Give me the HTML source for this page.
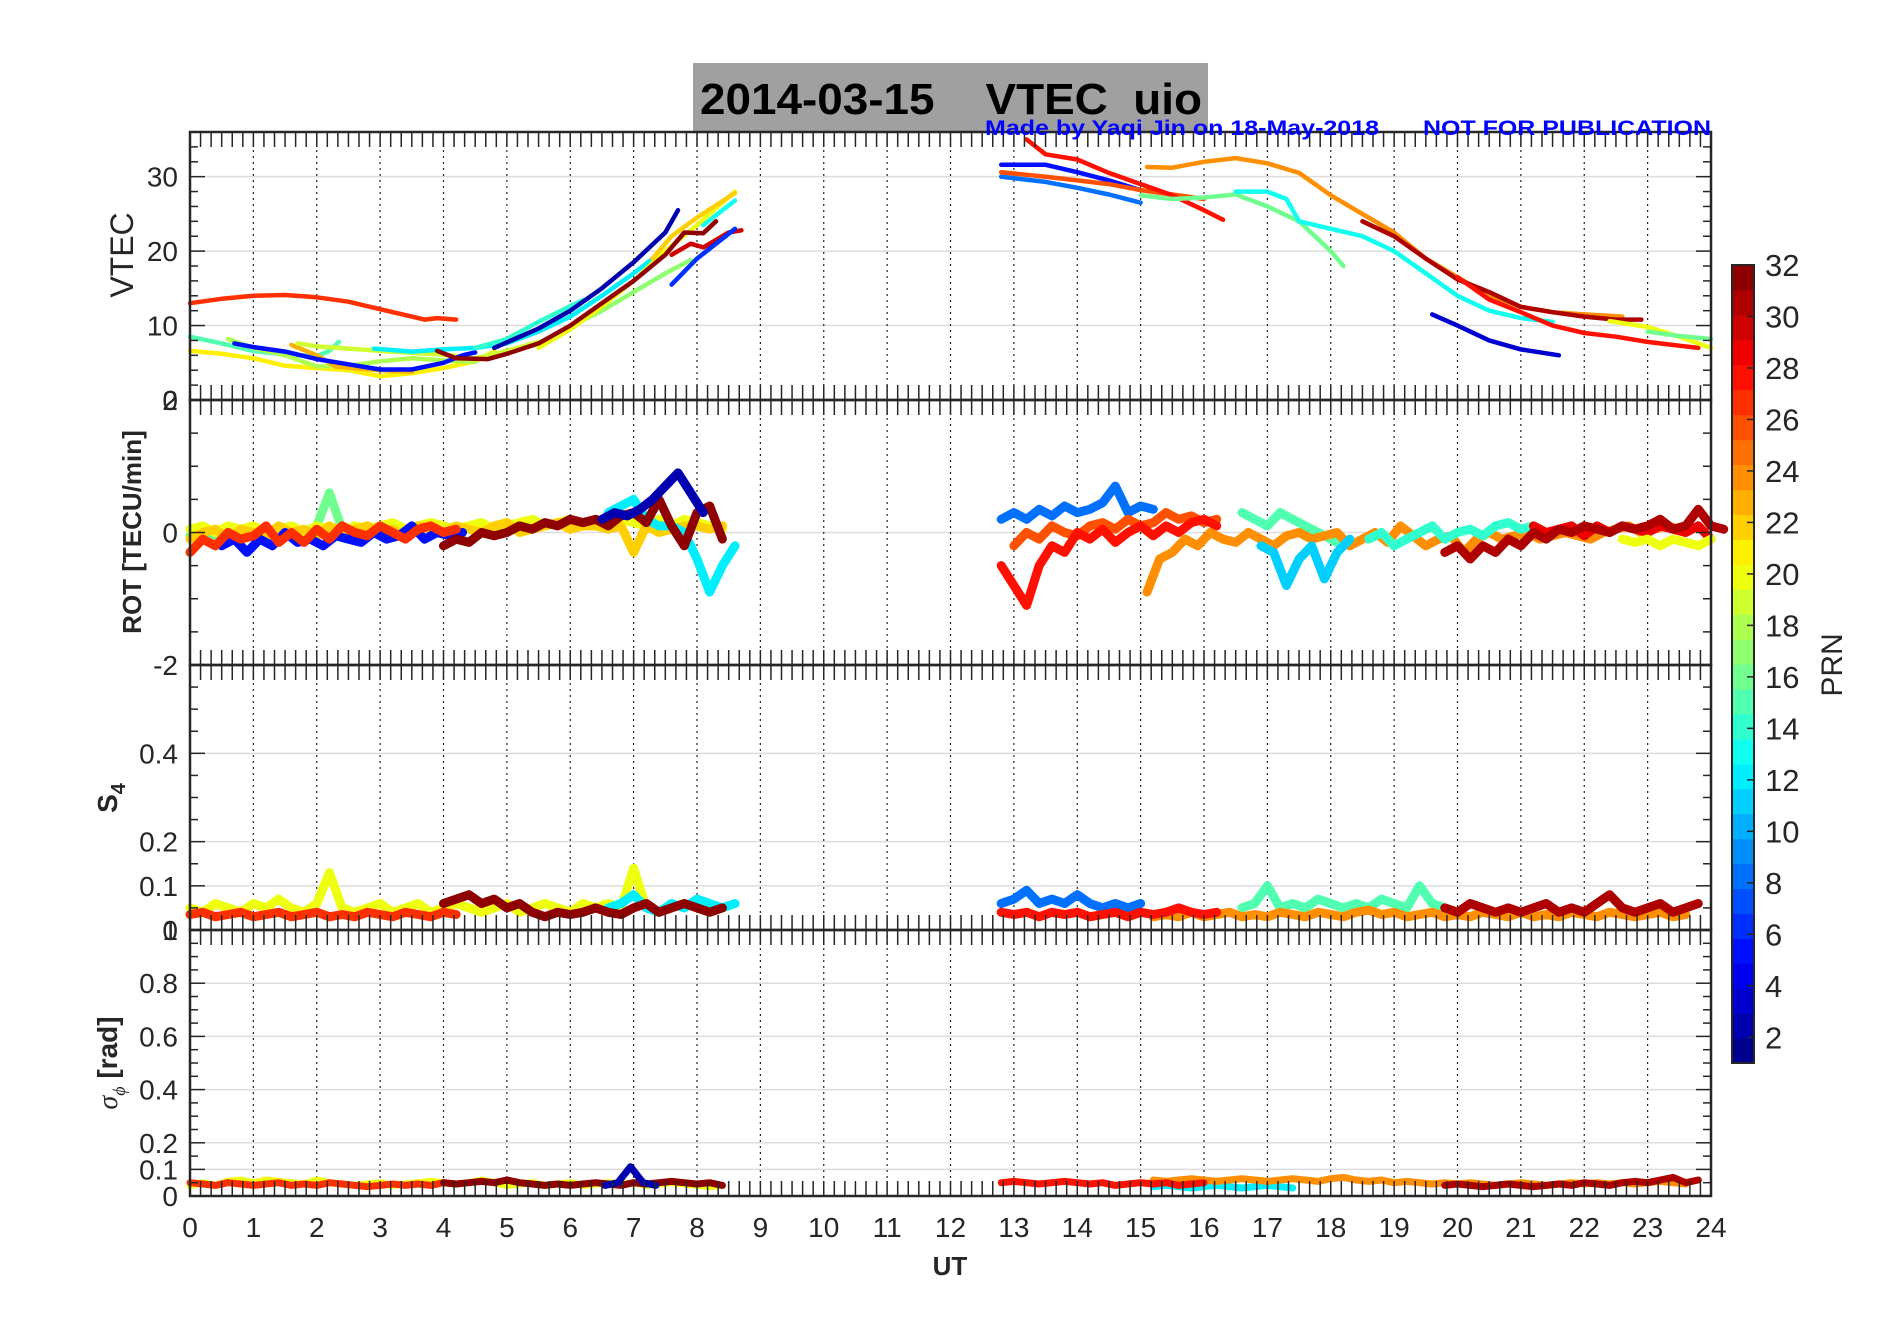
<!DOCTYPE html>
<html><head><meta charset="utf-8"><style>
html,body{margin:0;padding:0;background:#fff;}
svg{display:block;font-family:"Liberation Sans",sans-serif;}
</style></head><body>
<svg id="fig" width="1902" height="1330" viewBox="0 0 1902 1330" xmlns="http://www.w3.org/2000/svg">
<rect x="0" y="0" width="1902" height="1330" fill="#fff"/>
<rect x="693" y="63" width="515" height="68" fill="#a0a0a0"/>
<text x="700" y="114" font-size="44" font-weight="bold" fill="#000" textLength="502" lengthAdjust="spacingAndGlyphs" xml:space="preserve">2014-03-15    VTEC  uio</text>
<g id="plots"></g>
<text x="985" y="135" font-size="21" font-weight="bold" fill="#0000ff" textLength="394" lengthAdjust="spacingAndGlyphs">Made by Yaqi Jin on 18-May-2018</text>
<text x="1423" y="135" font-size="21" font-weight="bold" fill="#0000ff" textLength="288" lengthAdjust="spacingAndGlyphs">NOT FOR PUBLICATION</text>
<text transform="translate(133,255) rotate(-90)" text-anchor="middle" font-size="32" fill="#262626">VTEC</text>
<text transform="translate(141,532) rotate(-90)" text-anchor="middle" font-size="26" font-weight="bold" fill="#262626">ROT [TECU/min]</text>
<text transform="translate(117,798) rotate(-90)" text-anchor="middle" font-size="28" font-weight="bold" fill="#262626">S<tspan font-size="20" dy="8">4</tspan></text>
<text transform="translate(117,1063) rotate(-90)" text-anchor="middle" font-size="28" font-weight="bold" fill="#262626"><tspan font-family="Liberation Serif" font-style="italic" font-weight="normal">σ</tspan><tspan font-size="18" dy="8" font-family="Liberation Serif" font-style="italic" font-weight="normal">ϕ</tspan><tspan dy="-8"> [rad]</tspan></text>
<text x="950" y="1275" text-anchor="middle" font-size="26" font-weight="bold" fill="#262626">UT</text>
<g id="cbar"></g>
<text transform="translate(1842,665) rotate(-90)" text-anchor="middle" font-size="30" fill="#262626">PRN</text>
</svg>
<script>
// ---------- data ----------
const xTicks = [0,1,2,3,4,5,6,7,8,9,10,11,12,13,14,15,16,17,18,19,20,21,22,23,24];
const vtecTicks = [0,10,20,30];
const rotTicks = [-2,0,2];
const s4Ticks = [0,0.1,0.2,0.4];
const sigTicks = [0,0.1,0.2,0.4,0.6,0.8];
const cbarTicks = [2,4,6,8,10,12,14,16,18,20,22,24,26,28,30,32];

// VTEC series: [t, value] pairs
const vtec_p27a = [[0,13],[0.5,13.6],[1,14],[1.5,14.1],[2,13.8],[2.5,13.2],[3,12.2],[3.5,11.2],[3.7,10.8],[3.9,11],[4.2,10.8]];
const vtec_p15a = [[0,8.5],[0.5,7.6],[1,6.6],[1.5,6.1],[2,5.9],[2.2,6.6],[2.35,7.8]];
const vtec_p21a = [[0,6.6],[0.5,6.2],[1,5.6],[1.5,4.6],[2,4.3],[2.5,4],[3,3.2],[3.5,3.6],[4,4.3],[4.5,5.2],[4.8,6.5]];
const vtec_p5a = [[0.7,7.6],[1,7.1],[1.5,6.5],[2,5.5],[2.5,4.8],[3,4.1],[3.5,4.1],[4,5],[4.3,6],[4.5,6.4]];
const vtec_p18a = [[0.6,8.2],[1,7],[1.5,6],[2,4.5],[2.5,4.6],[3,5.2],[3.5,5.6],[4,5.3],[4.5,5.1]];
const vtec_p23a = [[1.6,7.4],[2,6],[2.3,4.5],[3,4],[3.5,3.8]];
const vtec_p19a = [[1.7,7.6],[2,7.2],[3,6.6],[4,6.1],[4.5,5.6],[5,6.6],[5.5,7.8]];
const vtec_p12a = [[2.9,6.9],[3.5,6.5],[4,6.8],[4.5,7],[5,7.6],[5.5,9.2],[6,11.2],[6.5,14],[7,17],[7.3,19]];
const vtec_p14a = [[4.5,7],[5,8.2],[5.5,10.5],[6,12.6],[6.2,13.4]];
const vtec_p2a = [[4.8,7],[5.5,9.6],[6,12],[6.5,15],[7,18.5],[7.5,22.5],[7.7,25.5]];
const vtec_p32a = [[3.9,6.6],[4.2,5.6],[4.7,5.5],[5,6.2],[5.5,7.6],[6,10],[6.5,13],[7,16],[7.5,19.5],[7.8,22.5],[8.1,22.4],[8.3,24]];
const vtec_p30a = [[7.6,19.5],[7.9,21],[8.1,20.5],[8.3,21.5],[8.5,22.5],[8.7,22.8]];
const vtec_p20a = [[5.5,7],[6,9.5],[6.5,12.5],[7,16],[7.5,20],[8,23.5],[8.6,28]];
const vtec_p22a = [[7.3,19],[7.6,22],[8,24.5],[8.6,27.8]];
const vtec_p17a = [[5.8,9],[6.5,12],[7,14.5],[7.5,17],[7.9,18.8]];
const vtec_p6a = [[7.6,15.5],[8,19],[8.6,23]];
const vtec_p13a = [[8.1,23.5],[8.6,26.8]];
const vtec_p5b = [[12.8,31.6],[13.5,31.6],[14,30.6],[14.5,29.5],[15,28.2]];
const vtec_p8b = [[12.8,30],[13.5,29.3],[14,28.5],[14.5,27.6],[15,26.5]];
const vtec_p26b = [[12.8,30.6],[13.5,30],[14,29.5],[14.5,29],[15,28.2],[15.5,27.6],[16,27]];
const vtec_p28b = [[13.2,35],[13.5,33],[14,32.3],[14.5,30.5],[15,29],[15.5,27.5],[16,25.5],[16.3,24.2]];
const vtec_p24b = [[15.1,31.3],[15.5,31.2],[16,32],[16.5,32.5],[17,31.8],[17.5,30.5],[18,27.5],[18.5,25],[19,22.5],[19.5,19],[20,16.5],[20.5,14],[21,12.5],[21.5,11.8],[22,11.5],[22.6,11.2]];
const vtec_p16b = [[15,27.5],[15.5,27],[16,27.2],[16.5,27.6],[17,26],[17.5,24],[18,20],[18.2,18]];
const vtec_p13b = [[16.5,28],[17,28],[17.3,27],[17.5,24],[18,23],[18.5,22],[19,20],[19.5,17],[20,14],[20.5,12],[21,11],[21.5,10.5]];
const vtec_p31b = [[18.5,24],[19,22],[19.5,19],[20,16.2],[20.5,14.5],[21,12.5],[21.5,11.8],[22,11.2],[22.5,10.8],[22.9,10.8]];
const vtec_p28c = [[20,16.5],[20.5,13.5],[21,11.8],[21.5,10],[22,9],[22.5,8.5],[23,7.8],[23.5,7.3],[23.8,7]];
const vtec_p3b = [[19.6,11.5],[20,10],[20.5,8],[21,6.8],[21.6,6]];
const vtec_p20b = [[22.4,10.6],[23,9.8],[23.5,8.5],[24,7]];
const vtec_p16c = [[23,9.2],[23.5,8.6],[24,8.2]];

// ROT series: start time, values every 0.2 h
const rot_p27a = [-0.3,-0.1,-0.2,0,-0.1,-0.05,0.1,-0.15,0,-0.15,0.05,-0.1,0.1,0,-0.05,0.1,0,-0.1,0.05,0.1,0,0.05];
const rot_p22a = [-0.1,0,0.05,-0.1,0.05,0,-0.05,0.1,0,0.05,-0.05,0.1,0,0.05,0.1,0,0.05,-0.05,0.1,0.05,0,0.1,0.05,0,0.1,0.15,0,0.05,0.1,0.15,0.05,0.1,0.1,0.05,0.1,-0.3,0.1,0,0.05,0.1,0.1,0.05,0.1];
const rot_p20a = [0.05,0.1,0,0.1,0.05,0.1,0,0.05,0.1,0,0.1,0.05,0,0.1,0.05,0.1,0.15,0.05,0.1,0.15,0.1,0.05,0.1,0.15,0.05,0.1,0.15,0.2,0.1,0.15,0.2,0.1,0.15,0.1,0.2,0.15,0.1,0.2,0.1,0.2,0.15,0.1,0.05];
const rot_p16a = [-0.05,0,-0.1,0,-0.05,0.05,-0.1,0,0.05,-0.05,0.1,0.6,0.05,0,-0.05];
const rot_p5a = [-0.2,-0.1,-0.3,-0.1,-0.2,0,-0.15,-0.1,-0.2,-0.05,-0.1,-0.15,0,-0.1,-0.05,0.1,-0.1,0,-0.05,0];
const rot_p32a = [-0.2,-0.1,-0.15,0,-0.05,0,0.1,0.05,0.15,0.1,0.2,0.15,0.2,0.1,0.25,0.3,0.15,0.5,0.1,-0.2,0.3,0.4,-0.1];
const rot_p2a = [0.2,0.3,0.25,0.35,0.5,0.7,0.9,0.6,0.3];
const rot_p12a = [0.3,0.4,0.5,0.2,0.1,0.1,0,-0.4,-0.9,-0.5,-0.2];
const rot_p8b = [0.2,0.3,0.2,0.35,0.25,0.4,0.3,0.35,0.45,0.7,0.3,0.4,0.35];
const rot_p28b = [-0.5,-0.8,-1.1,-0.5,-0.2,-0.3,0,-0.1,0.05,-0.15,0,0.1,-0.05,0.1,0,0.15,0.2,0.1];
const rot_p26b = [-0.2,0,-0.1,0.1,0,-0.05,0.1,0.15,0.05,0.2,0.1,0.15,0.3,0.2,0.25,0.15,0.2];
const rot_p24b = [-0.9,-0.4,-0.3,-0.1,-0.2,0,-0.1,-0.15,0,-0.1,-0.2,-0.05,0,-0.1,-0.05,0,-0.2,-0.1,0,-0.15,0.1,-0.05,-0.2,-0.1,-0.05,-0.3,-0.1,0,-0.1,-0.05,0,-0.1,-0.05,0,-0.05,-0.1,0,0.05,0.1,0,0.05,0.1,0.05];
const rot_p15b = [0.3,0.2,0.1,0.3,0.2,0.1,0,-0.1,-0.2];
const rot_p11b = [-0.2,-0.3,-0.8,-0.4,-0.2,-0.7,-0.3,-0.1];
const rot_p14b = [-0.1,0,-0.2,-0.1,0,0.1,-0.1,0,0.05,-0.05,0.1,0.15,0.05,0.1];
const rot_p31b = [-0.3,-0.2,-0.4,-0.2,-0.3,-0.1,-0.2,0,-0.1,0.05,0,0.1,0.05,0,0.1,0.05,0.1,0.2,0.05,0.1,0.35,0.1,0.05];
const rot_p29b = [0.1,0,0.05,0.1,-0.05,0.1,0,0.1,0.05,0,0.1,0.05,0,0.1,-0.1];
const rot_p20b = [-0.1,-0.15,-0.1,-0.2,-0.1,-0.15,-0.2,-0.1];

// S4 series: start time, values every 0.2 h
const s4_p27a = [0.035,0.04,0.03,0.035,0.04,0.03,0.035,0.04,0.03,0.035,0.04,0.03,0.035,0.03,0.04,0.035,0.03,0.04,0.035,0.03,0.04,0.035];
const s4_p20a = [0.05,0.04,0.06,0.05,0.04,0.06,0.05,0.07,0.05,0.04,0.06,0.13,0.05,0.04,0.05,0.06,0.04,0.05,0.06,0.04,0.05,0.06,0.05,0.04,0.05,0.06,0.04,0.05,0.06,0.05,0.04,0.06,0.05,0.06,0.05,0.14,0.05,0.04,0.05,0.06,0.05,0.04,0.05];
const s4_p32a = [0.06,0.07,0.08,0.06,0.07,0.05,0.06,0.04,0.03,0.04,0.035,0.04,0.05,0.04,0.035,0.05,0.06,0.04,0.05,0.06,0.05,0.04,0.05];
const s4_p12a = [0.05,0.06,0.08,0.05,0.04,0.06,0.05,0.07,0.06,0.05,0.06];
const s4_p8b = [0.06,0.07,0.09,0.06,0.07,0.06,0.08,0.06,0.05,0.06,0.05,0.06];
const s4_p28b = [0.04,0.035,0.04,0.03,0.04,0.035,0.04,0.03,0.035,0.04,0.03,0.04,0.035,0.04,0.05,0.04,0.035,0.04];
const s4_p24b = [0.03,0.035,0.03,0.04,0.03,0.035,0.04,0.03,0.035,0.03,0.04,0.035,0.03,0.04,0.035,0.03,0.04,0.045,0.035,0.04,0.03,0.035,0.04,0.03,0.035,0.03,0.04,0.035,0.03,0.04,0.03,0.035,0.03,0.04,0.035,0.03,0.04,0.035,0.03,0.035,0.04,0.03,0.035];
const s4_p15b = [0.05,0.06,0.1,0.05,0.06,0.05,0.07,0.06,0.05,0.06,0.05,0.07,0.06,0.05,0.1,0.06,0.05];
const s4_p31b = [0.05,0.04,0.06,0.05,0.04,0.05,0.04,0.05,0.06,0.04,0.05,0.04,0.06,0.08,0.05,0.04,0.05,0.06,0.04,0.05,0.06];

// sigma-phi series: start time, values every 0.2 h
const sig_p27a = [0.05,0.045,0.04,0.05,0.045,0.04,0.045,0.05,0.04,0.045,0.04,0.05,0.045,0.04,0.035,0.04,0.045,0.04,0.045,0.04,0.05,0.045];
const sig_p20a = [0.04,0.05,0.04,0.055,0.06,0.05,0.06,0.055,0.05,0.045,0.06,0.05,0.045,0.04,0.045,0.05,0.04,0.045,0.05,0.055,0.05,0.045,0.05,0.06,0.05,0.04,0.045,0.05,0.04,0.045,0.05,0.04,0.045,0.05,0.045,0.05,0.04,0.045,0.05,0.045,0.04,0.035,0.04];
const sig_p32a = [0.05,0.045,0.05,0.055,0.05,0.06,0.05,0.045,0.04,0.045,0.04,0.045,0.05,0.045,0.04,0.05,0.045,0.05,0.055,0.05,0.045,0.05,0.04];
const sig_p2a = [0.04,0.05,0.11,0.05,0.04];
const sig_p28b = [0.05,0.055,0.05,0.045,0.05,0.055,0.05,0.045,0.05,0.04,0.045,0.05,0.045,0.05,0.04,0.045,0.05];
const sig_p24b = [0.06,0.055,0.06,0.065,0.06,0.055,0.06,0.065,0.06,0.055,0.06,0.065,0.06,0.055,0.065,0.07,0.06,0.055,0.06,0.05,0.055,0.05,0.045,0.05,0.045,0.05,0.045,0.04,0.045,0.05,0.045,0.04,0.045,0.05,0.045,0.05,0.045,0.05,0.045,0.05,0.055,0.05,0.045];
const sig_p12b = [0.035,0.04,0.035,0.03,0.035,0.04,0.035,0.03,0.035,0.04,0.035,0.03];
const sig_p31b = [0.04,0.045,0.04,0.035,0.04,0.045,0.04,0.035,0.04,0.045,0.04,0.05,0.045,0.04,0.05,0.055,0.05,0.06,0.07,0.05,0.06];

// ---------- layout ----------
const NS = 'http://www.w3.org/2000/svg';
const X0 = 190, X1 = 1711;
const panels = [
  {key:'vtec', top:132, bot:400, lo:0, hi:36, major:vtecTicks, minor:2},
  {key:'rot', top:400, bot:665, lo:-2, hi:2, major:rotTicks, minor:0.5},
  {key:'s4', top:665, bot:930, lo:0, hi:0.6, major:s4Ticks, minor:0.05},
  {key:'sig', top:930, bot:1196, lo:0, hi:1, major:sigTicks, minor:0.05}
];
function xs(t){ return X0 + (t/24)*(X1-X0); }
function ys(p,v){ return p.bot - (v-p.lo)/(p.hi-p.lo)*(p.bot-p.top); }
function jet(prn){
  const n=32, v=(prn-0.5)/n;
  const f=x=>Math.max(0,Math.min(1,x));
  const r=f(1.5-Math.abs(4*v-3)), g=f(1.5-Math.abs(4*v-2)), b=f(1.5-Math.abs(4*v-1));
  return 'rgb('+Math.round(r*255)+','+Math.round(g*255)+','+Math.round(b*255)+')';
}
function mk(tag, attrs, parent){
  const e=document.createElementNS(NS,tag);
  for(const k in attrs) e.setAttribute(k,attrs[k]);
  parent.appendChild(e); return e;
}
const root=document.getElementById('plots');

panels.forEach(p=>{
  const g=mk('g',{},root);
  
  
  p.g=g;
  p.major.forEach(v=>{
    const l=mk('line',{x1:X0,x2:X1,y1:ys(p,v),y2:ys(p,v),stroke:'#dcdcdc','stroke-width':1.5},g);
    
    
  });
  xTicks.forEach(t=>{
    if(t===0||t===24) return;
    const l=mk('line',{x1:xs(t),x2:xs(t),y1:p.top,y2:p.bot,stroke:'#222','stroke-width':1.2,'stroke-dasharray':'2 4'},g);
    
    
  });
});

function drawPairs(p, prn, pts, w){
  const d=pts.map((q,i)=>(i?'L':'M')+xs(q[0]).toFixed(1)+' '+ys(p,q[1]).toFixed(1)).join(' ');
  const e=mk('path',{d:d,fill:'none',stroke:jet(prn),'stroke-width':w,'stroke-linejoin':'round','stroke-linecap':'round'},p.g);
  
  
}
function drawSteps(p, prn, t0, vals, w){
  const pts=vals.map((v,i)=>[t0+i*0.2, v]);
  drawPairs(p, prn, pts, w);
}
const P=panels;
[[15,vtec_p15a],[21,vtec_p21a],[18,vtec_p18a],[23,vtec_p23a],[19,vtec_p19a],[5,vtec_p5a],[12,vtec_p12a],[14,vtec_p14a],[17,vtec_p17a],[20,vtec_p20a],[22,vtec_p22a],[2,vtec_p2a],[32,vtec_p32a],[30,vtec_p30a],[6,vtec_p6a],[13,vtec_p13a],[27,vtec_p27a],
 [8,vtec_p8b],[5,vtec_p5b],[26,vtec_p26b],[28,vtec_p28b],[16,vtec_p16b],[13,vtec_p13b],[24,vtec_p24b],[31,vtec_p31b],[28,vtec_p28c],[3,vtec_p3b],[20,vtec_p20b],[16,vtec_p16c]
].forEach(s=>drawPairs(P[0], s[0], s[1], 4.5));

[[16,0,rot_p16a],[20,0,rot_p20a],[22,0,rot_p22a],[5,0.5,rot_p5a],[27,0,rot_p27a],[12,6.6,rot_p12a],[32,4,rot_p32a],[2,6.5,rot_p2a],
 [8,12.8,rot_p8b],[26,13.0,rot_p26b],[28,12.8,rot_p28b],[15,16.6,rot_p15b],[24,15.1,rot_p24b],[11,16.9,rot_p11b],[14,18.6,rot_p14b],[29,21.2,rot_p29b],[31,19.8,rot_p31b],[20,22.6,rot_p20b]
].forEach(s=>drawSteps(P[1], s[0], s[1], s[2], 9));

[[20,0,s4_p20a],[27,0,s4_p27a],[12,6.6,s4_p12a],[32,4,s4_p32a],
 [8,12.8,s4_p8b],[15,16.6,s4_p15b],[24,15.2,s4_p24b],[28,12.8,s4_p28b],[31,19.8,s4_p31b]
].forEach(s=>drawSteps(P[2], s[0], s[1], s[2], 9));

[[20,0,sig_p20a],[27,0,sig_p27a],[32,4,sig_p32a],[2,6.55,sig_p2a],
 [12,15.2,sig_p12b],[24,15.2,sig_p24b],[28,12.8,sig_p28b],[31,19.8,sig_p31b]
].forEach(s=>drawSteps(P[3], s[0], s[1], s[2], 7));

panels.forEach((p,pi)=>{
  const g=p.g;
  for(let k=0;k<=144;k++){
    const x=xs(k/6);
    mk('line',{x1:x,x2:x,y1:p.top,y2:p.top+15,stroke:'#262626','stroke-width':1.5},g);
    mk('line',{x1:x,x2:x,y1:p.bot,y2:p.bot-15,stroke:'#262626','stroke-width':1.5},g);
  }
  const n=Math.round((p.hi-p.lo)/p.minor);
  for(let k=0;k<=n;k++){
    const v=p.lo+k*p.minor, y=ys(p,v);
    const isMaj=p.major.some(m=>Math.abs(m-v)<1e-9);
    const L=isMaj?15:8;
    mk('line',{x1:X0,x2:X0+L,y1:y,y2:y,stroke:'#262626','stroke-width':1.5},g);
    mk('line',{x1:X1,x2:X1-L,y1:y,y2:y,stroke:'#262626','stroke-width':1.5},g);
  }
  p.major.forEach(v=>{
    const t=mk('text',{x:178,y:ys(p,v)+10,'text-anchor':'end','font-size':28,fill:'#262626'},g);
    t.textContent=String(v);
    
    
  });
  if(p.key==='rot'){
    const t=mk('text',{x:178,y:p.top+10,'text-anchor':'end','font-size':28,fill:'#262626'},g);
    t.textContent='2';
    
    
  }
  if(p.key==='sig'){
    const t=mk('text',{x:178,y:p.top+10,'text-anchor':'end','font-size':28,fill:'#262626'},g);
    t.textContent='1';
    
    
  }
  const b=mk('rect',{x:X0,y:p.top,width:X1-X0,height:p.bot-p.top,fill:'none',stroke:'#262626','stroke-width':2.5},g);
  
  
});
xTicks.forEach(t=>{
  const e=mk('text',{x:xs(t),y:1237,'text-anchor':'middle','font-size':28,fill:'#262626'},root);
  e.textContent=String(t);
  
  
});

const cb=document.getElementById('cbar');
const CX=1732, CW=22, CT=265, CB=1063;
function cy(v){ return CB-(v-1)/31*(CB-CT); }
for(let i=1;i<=32;i++){
  const y0=CB-(i)/32*(CB-CT), h=(CB-CT)/32;
  const r=mk('rect',{x:CX,y:y0,width:CW,height:h+0.6,fill:jet(i)},cb);
  
  
}
mk('rect',{x:CX,y:CT,width:CW,height:CB-CT,fill:'none',stroke:'#262626','stroke-width':2},cb);
cbarTicks.forEach(v=>{
  mk('line',{x1:CX+CW-7,x2:CX+CW,y1:cy(v),y2:cy(v),stroke:'#262626','stroke-width':1.5},cb);
  const t=mk('text',{x:1765,y:cy(v)+11,'font-size':31,fill:'#262626'},cb);
  t.textContent=String(v);
  
  
});
</script>
</body></html>
